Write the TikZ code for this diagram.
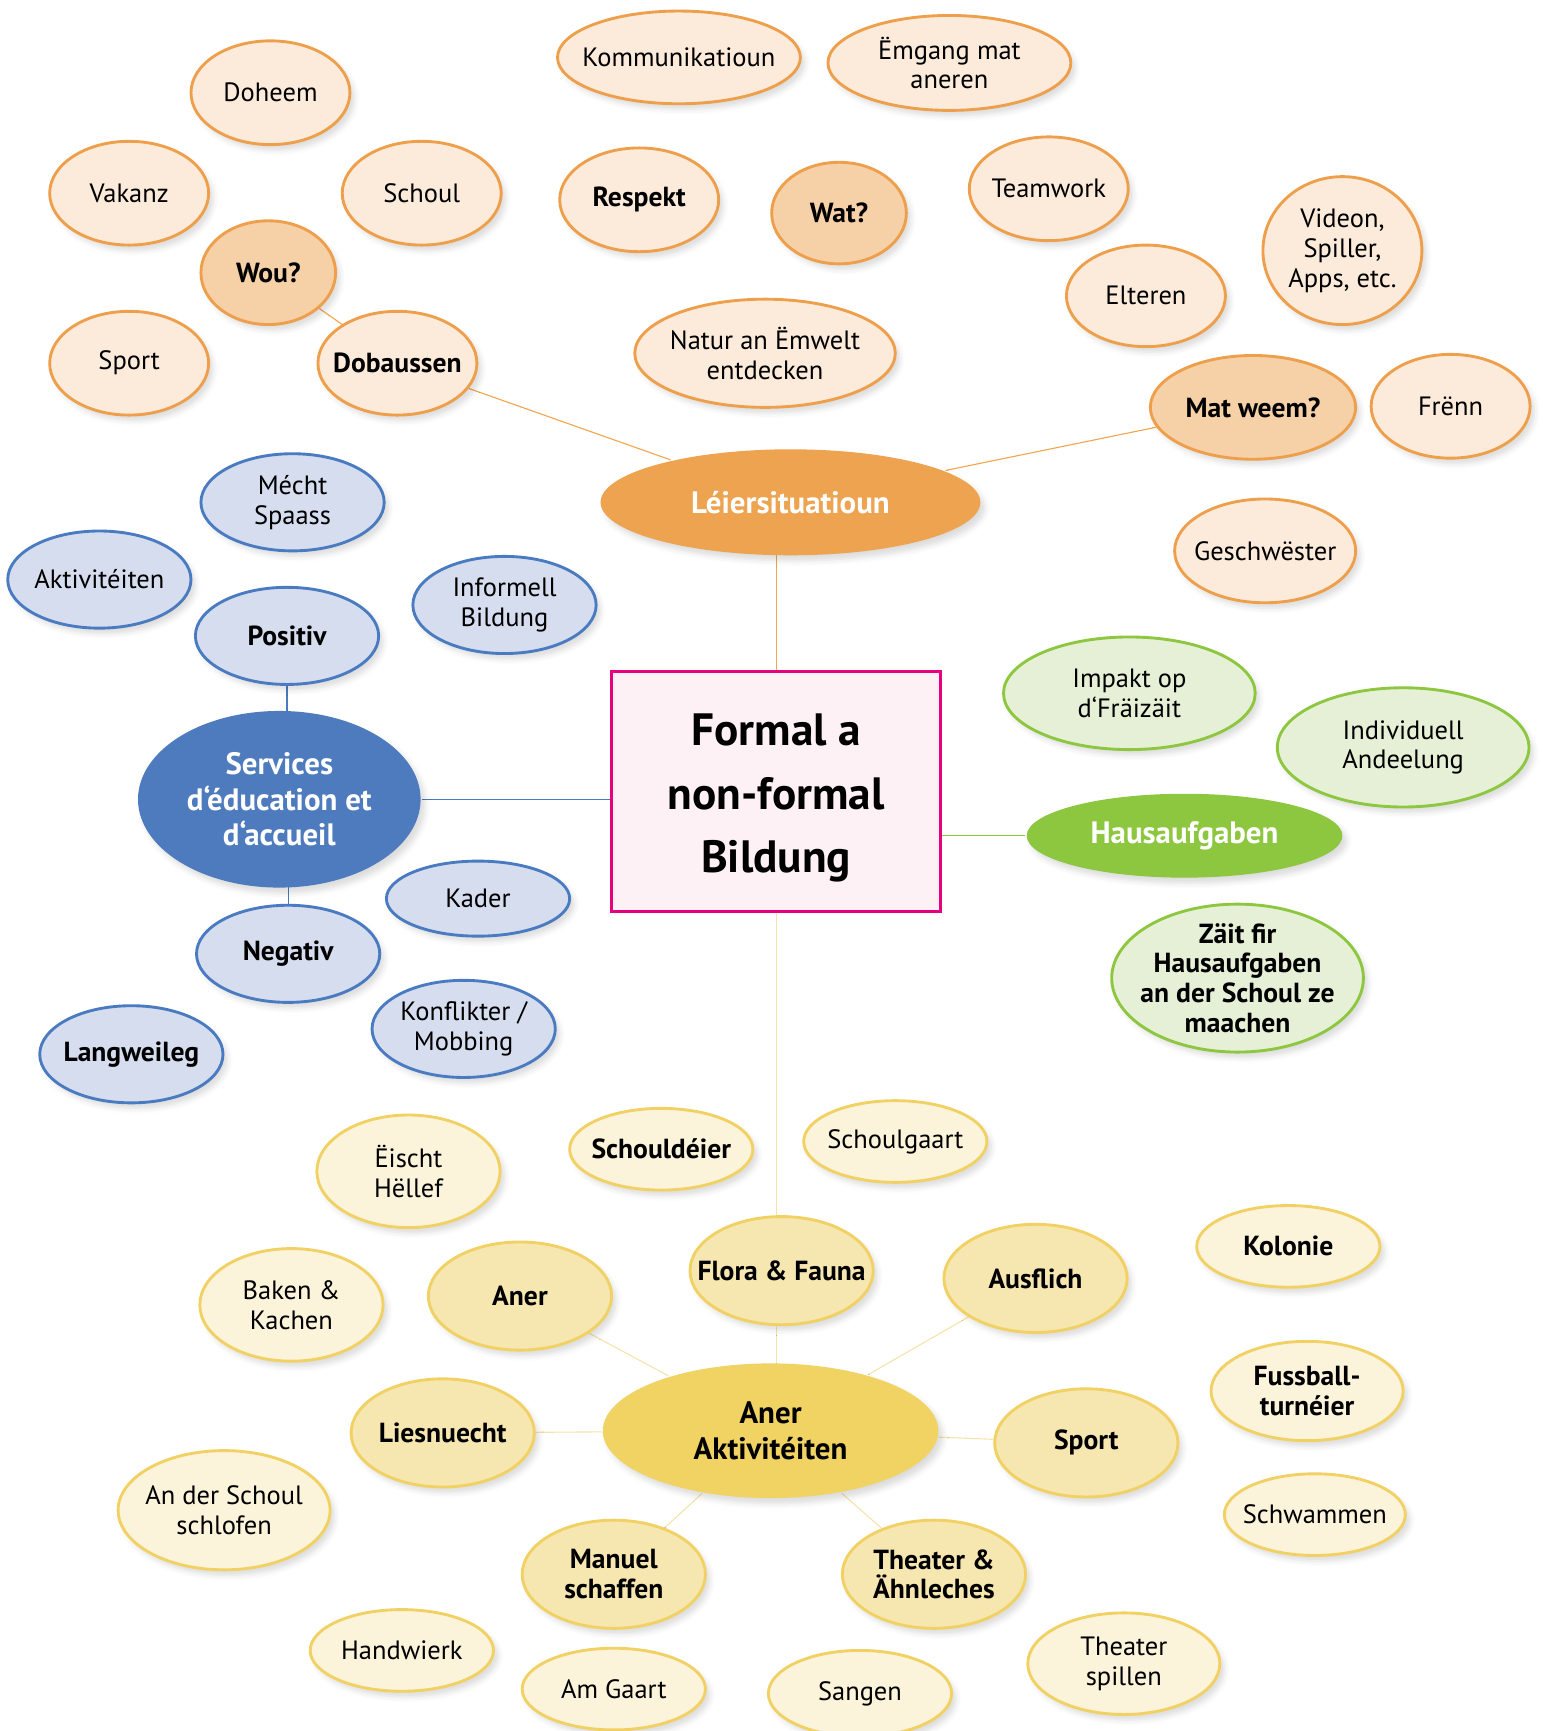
\documentclass[tikz,border=0pt]{standalone}
\usepackage{fontspec}
\setmainfont{PT Sans}
\usetikzlibrary{shapes.geometric,shadows.blur,backgrounds}
\definecolor{orB}{HTML}{EE9F4C}
\definecolor{orL}{HTML}{FCEBDA}
\definecolor{orM}{HTML}{F6D0A6}
\definecolor{orMain}{HTML}{EDA350}
\definecolor{orC}{HTML}{F2A54E}
\definecolor{blB}{HTML}{4A7BC0}
\definecolor{blL}{HTML}{D6DDEF}
\definecolor{blMain}{HTML}{4D7BBE}
\definecolor{grB}{HTML}{8DC63F}
\definecolor{grL}{HTML}{E6F0D6}
\definecolor{yeB}{HTML}{F1D163}
\definecolor{yeL}{HTML}{FBF3DA}
\definecolor{yeM}{HTML}{F6E6B0}
\definecolor{yeMain}{HTML}{F0D362}
\definecolor{yeC}{HTML}{F5E3AC}
\definecolor{pkB}{HTML}{E5007D}
\definecolor{pkL}{HTML}{FDF1F5}
\begin{document}
\begin{tikzpicture}[x=1pt,y=-1pt,
  ell/.style={ellipse, inner xsep=-60pt, inner ysep=-30pt, line width=2.6pt, align=center,
    blur shadow={shadow xshift=4pt, shadow yshift=-5pt, shadow blur radius=5pt, shadow opacity=14}},
  sz/.style 2 args={minimum width=#1pt, minimum height=#2pt},
  rg/.style={font=\fontsize{24}{27}\selectfont},
  bd/.style={font=\bfseries\fontsize{25}{27}\selectfont},
  mainf/.style={font=\bfseries\fontsize{28}{32.5}\selectfont},
  orl/.style={ell, draw=orB, fill=orL},
  orm/.style={ell, draw=orB, fill=orM},
  ormain/.style={ell, draw=none, fill=orMain, text=white},
  bll/.style={ell, draw=blB, fill=blL},
  blmain/.style={ell, draw=none, fill=blMain, text=white},
  grl/.style={ell, draw=grB, fill=grL},
  grmain/.style={ell, draw=none, fill=grB, text=white},
  yel/.style={ell, draw=yeB, fill=yeL},
  yem/.style={ell, draw=yeB, fill=yeM},
  yemain/.style={ell, draw=none, fill=yeMain},
  con/.style={line width=1pt}
]
\useasboundingbox (0,0) rectangle (1397,1568);

% center box
\node[draw=pkB, fill=pkL, line width=2.6pt, minimum width=298pt, minimum height=218pt] (box) at (703,717) {};
\node[align=center, font=\bfseries\fontsize{41}{57.5}\selectfont] (boxtext) at (703,723)
  {Formal a\\non-formal\\Bildung};

% orange group
\node[ormain, sz={344}{96}, mainf] (leier) at (716,455) {Léiersituatioun};
\node[orl, sz={144}{94}, rg] (doheem) at (245,84) {Doheem};
\node[orl, sz={144}{94}, rg] (vakanz) at (117,175) {Vakanz};
\node[orl, sz={144}{94}, rg] (schoul) at (382,175) {Schoul};
\node[orm, sz={122}{94}, bd] (wou) at (243,247) {Wou?};
\node[orl, sz={144}{94}, rg] (sport1) at (117,329) {Sport};
\node[orl, sz={144}{94}, bd] (dob) at (360,329) {Dobaussen};
\node[orl, sz={220}{84}, rg] (komm) at (615,52) {Kommunikatioun};
\node[orl, sz={220}{86}, rg] (emgang) at (860,57) {Ëmgang mat\\aneren};
\node[orl, sz={144}{94}, bd] (respekt) at (579,181) {Respekt};
\node[orm, sz={122}{92}, bd] (wat) at (760,193) {Wat?};
\node[orl, sz={144}{94}, rg] (team) at (950,171) {Teamwork};
\node[orl, sz={236}{98}, rg] (natur) at (693,320) {Natur an Ëmwelt\\entdecken};
\node[orl, sz={144}{92}, rg] (elteren) at (1038,268) {Elteren};
\node[orl, sz={144}{134}, rg] (videon) at (1216,227) {Videon,\\Spiller,\\Apps, etc.};
\node[orm, sz={186}{94}, bd] (matweem) at (1135,369) {Mat weem?};
\node[orl, sz={144}{94}, rg] (frenn) at (1314,368) {Frënn};
\node[orl, sz={164}{94}, rg] (gesch) at (1146,499) {Geschwëster};

% blue group
\node[blmain, sz={256}{160}, mainf] (serv) at (253,724) {Services\\d‘éducation et\\d‘accueil};
\node[bll, sz={166}{88}, rg] (mecht) at (265,455) {Mécht\\Spaass};
\node[bll, sz={166}{88}, rg] (aktiv) at (90,525) {Aktivitéiten};
\node[bll, sz={166}{88}, bd] (pos) at (260,576) {Positiv};
\node[bll, sz={166}{88}, rg] (inform) at (457,548) {Informell\\Bildung};
\node[bll, sz={166}{68}, rg] (kader) at (433,814) {Kader};
\node[bll, sz={166}{88}, bd] (neg) at (261,864) {Negativ};
\node[bll, sz={166}{88}, rg] (konf) at (420,932) {Konflikter /\\Mobbing};
\node[bll, sz={166}{88}, bd] (lang) at (119,955) {Langweileg};

% green group
\node[grmain, sz={286}{76}, mainf] (haus) at (1073,757) {Hausaufgaben};
\node[grl, sz={228}{102}, rg] (impakt) at (1023,628) {Impakt op\\d‘Fräizäit};
\node[grl, sz={228}{108}, rg] (indiv) at (1271,677) {Individuell\\Andeelung};
\node[grl, sz={228}{134}, bd] (zait) at (1121,886) {Zäit fir\\Hausaufgaben\\an der Schoul ze\\maachen};

% yellow group
\node[yemain, sz={304}{122}, mainf] (aakt) at (698,1296) {Aner\\Aktivitéiten};
\node[yel, sz={166}{102}, rg] (eischt) at (370,1061) {Ëischt\\Hëllef};
\node[yel, sz={166}{74}, bd] (schdeier) at (599,1041) {Schouldéier};
\node[yel, sz={166}{74}, rg] (schgaart) at (811,1034) {Schoulgaart};
\node[yel, sz={166}{102}, rg] (baken) at (264,1182) {Baken \&\\Kachen};
\node[yem, sz={166}{98}, bd] (aner) at (471,1174) {Aner};
\node[yem, sz={166}{98}, bd] (flora) at (708,1151) {Flora \& Fauna};
\node[yem, sz={166}{98}, bd] (ausflich) at (938,1158) {Ausflich};
\node[yel, sz={166}{74}, bd] (kolonie) at (1167,1129) {Kolonie};
\node[yem, sz={166}{98}, bd] (lies) at (401,1298) {Liesnuecht};
\node[yem, sz={166}{98}, bd] (sport2) at (984,1307) {Sport};
\node[yel, sz={174}{90}, bd] (fuss) at (1184,1260) {Fussball-\\turnéier};
\node[yel, sz={192}{108}, rg] (schlofen) at (203,1368) {An der Schoul\\schlofen};
\node[yel, sz={164}{74}, rg] (schwammen) at (1191,1372) {Schwammen};
\node[yem, sz={166}{98}, bd] (manuel) at (556,1426) {Manuel\\schaffen};
\node[yem, sz={166}{98}, bd] (theater) at (846,1426) {Theater \&\\Ähnleches};
\node[yel, sz={166}{74}, rg] (handw) at (364,1495) {Handwierk};
\node[yel, sz={166}{74}, rg] (amgaart) at (556,1530) {Am Gaart};
\node[yel, sz={166}{78}, rg] (sangen) at (779,1534) {Sangen};
\node[yel, sz={174}{92}, rg] (thspill) at (1018,1507) {Theater\\spillen};

% connectors
\begin{scope}[on background layer]
  \draw[con, orC] (wou) -- (dob);
  \draw[con, orC] (dob) -- (leier);
  \draw[con, orC] (leier) -- (matweem);
  \draw[con, orC] (box.north) -- (box.north |- leier);
  \draw[con, blB] (pos) -- (pos |- serv);
  \draw[con, blB] (neg) -- (neg |- serv);
  \draw[con, blB] (box.west |- serv) -- (serv);
  \draw[con, grB] (box.east |- haus) -- (haus);
  \draw[con, yeC] (box.south) -- (box.south |- aakt);
  \draw[con, yeC] (aner) -- (aakt);
  \draw[con, yeC] (lies) -- (aakt);
  \draw[con, yeC] (ausflich) -- (aakt);
  \draw[con, yeC] (sport2) -- (aakt);
  \draw[con, yeC] (manuel) -- (aakt);
  \draw[con, yeC] (theater) -- (aakt);
\end{scope}
\end{tikzpicture}
\end{document}
